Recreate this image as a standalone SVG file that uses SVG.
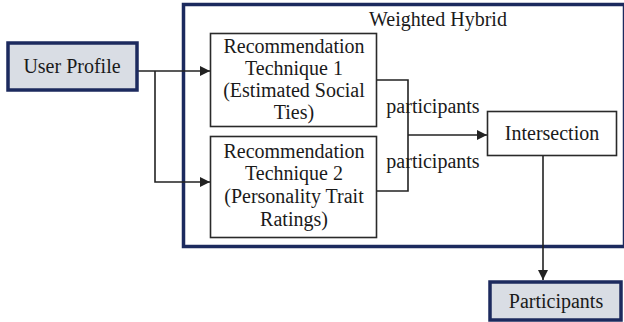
<svg xmlns="http://www.w3.org/2000/svg" width="624" height="322" viewBox="0 0 624 322">
<style>
.t{font-family:"Liberation Serif","Times New Roman",serif;font-size:20px;fill:#1a1a1a;text-anchor:middle}
.io{fill:#d9dde4;stroke:#1c2a5e;stroke-width:3.5}
.tb{fill:#fff;stroke:#2a2a2a;stroke-width:1.6}
.c{fill:none;stroke:#222;stroke-width:1.6}
</style>
<defs>
<marker id="ah" viewBox="0 0 10 10" refX="10" refY="5" markerWidth="10" markerHeight="10" markerUnits="userSpaceOnUse" orient="auto">
<path d="M0,0 L10,5 L0,10 z" fill="#222"/>
</marker>
</defs>
<g id="weighted-hybrid">
<rect x="183.5" y="4.5" width="441" height="242" fill="none" stroke="#1c2a5e" stroke-width="3.5"/>
<text class="t" x="438" y="26">Weighted Hybrid</text>
</g>
<g id="connectors">
<path class="c" d="M137,71 H210" marker-end="url(#ah)"/>
<path class="c" d="M155,71 V182 H210" marker-end="url(#ah)"/>
<path class="c" d="M377,80 H408 V191 H377"/>
<path class="c" d="M408,135 H487" marker-end="url(#ah)"/>
<path class="c" d="M543,156 V280" marker-end="url(#ah)"/>
</g>
<g id="user-profile">
<rect class="io" x="8" y="43" width="129" height="47"/>
<text class="t" x="72" y="73">User Profile</text>
</g>
<g id="technique-1">
<rect class="tb" x="210.5" y="33.5" width="166" height="93"/>
<text class="t" x="294" y="53">Recommendation</text>
<text class="t" x="294" y="75">Technique 1</text>
<text class="t" x="294" y="97">(Estimated Social</text>
<text class="t" x="294" y="119">Ties)</text>
</g>
<g id="technique-2">
<rect class="tb" x="210.5" y="136.5" width="166" height="101"/>
<text class="t" x="294" y="158">Recommendation</text>
<text class="t" x="294" y="180">Technique 2</text>
<text class="t" x="294" y="203">(Personality Trait</text>
<text class="t" x="294" y="226">Ratings)</text>
</g>
<g id="labels">
<text class="t" x="433" y="113">participants</text>
<text class="t" x="433" y="168">participants</text>
</g>
<g id="intersection">
<rect class="tb" x="487.5" y="111.5" width="129" height="44"/>
<text class="t" x="552" y="140">Intersection</text>
</g>
<g id="participants">
<rect class="io" x="490" y="282" width="131" height="38"/>
<text class="t" x="556" y="308">Participants</text>
</g>
</svg>
